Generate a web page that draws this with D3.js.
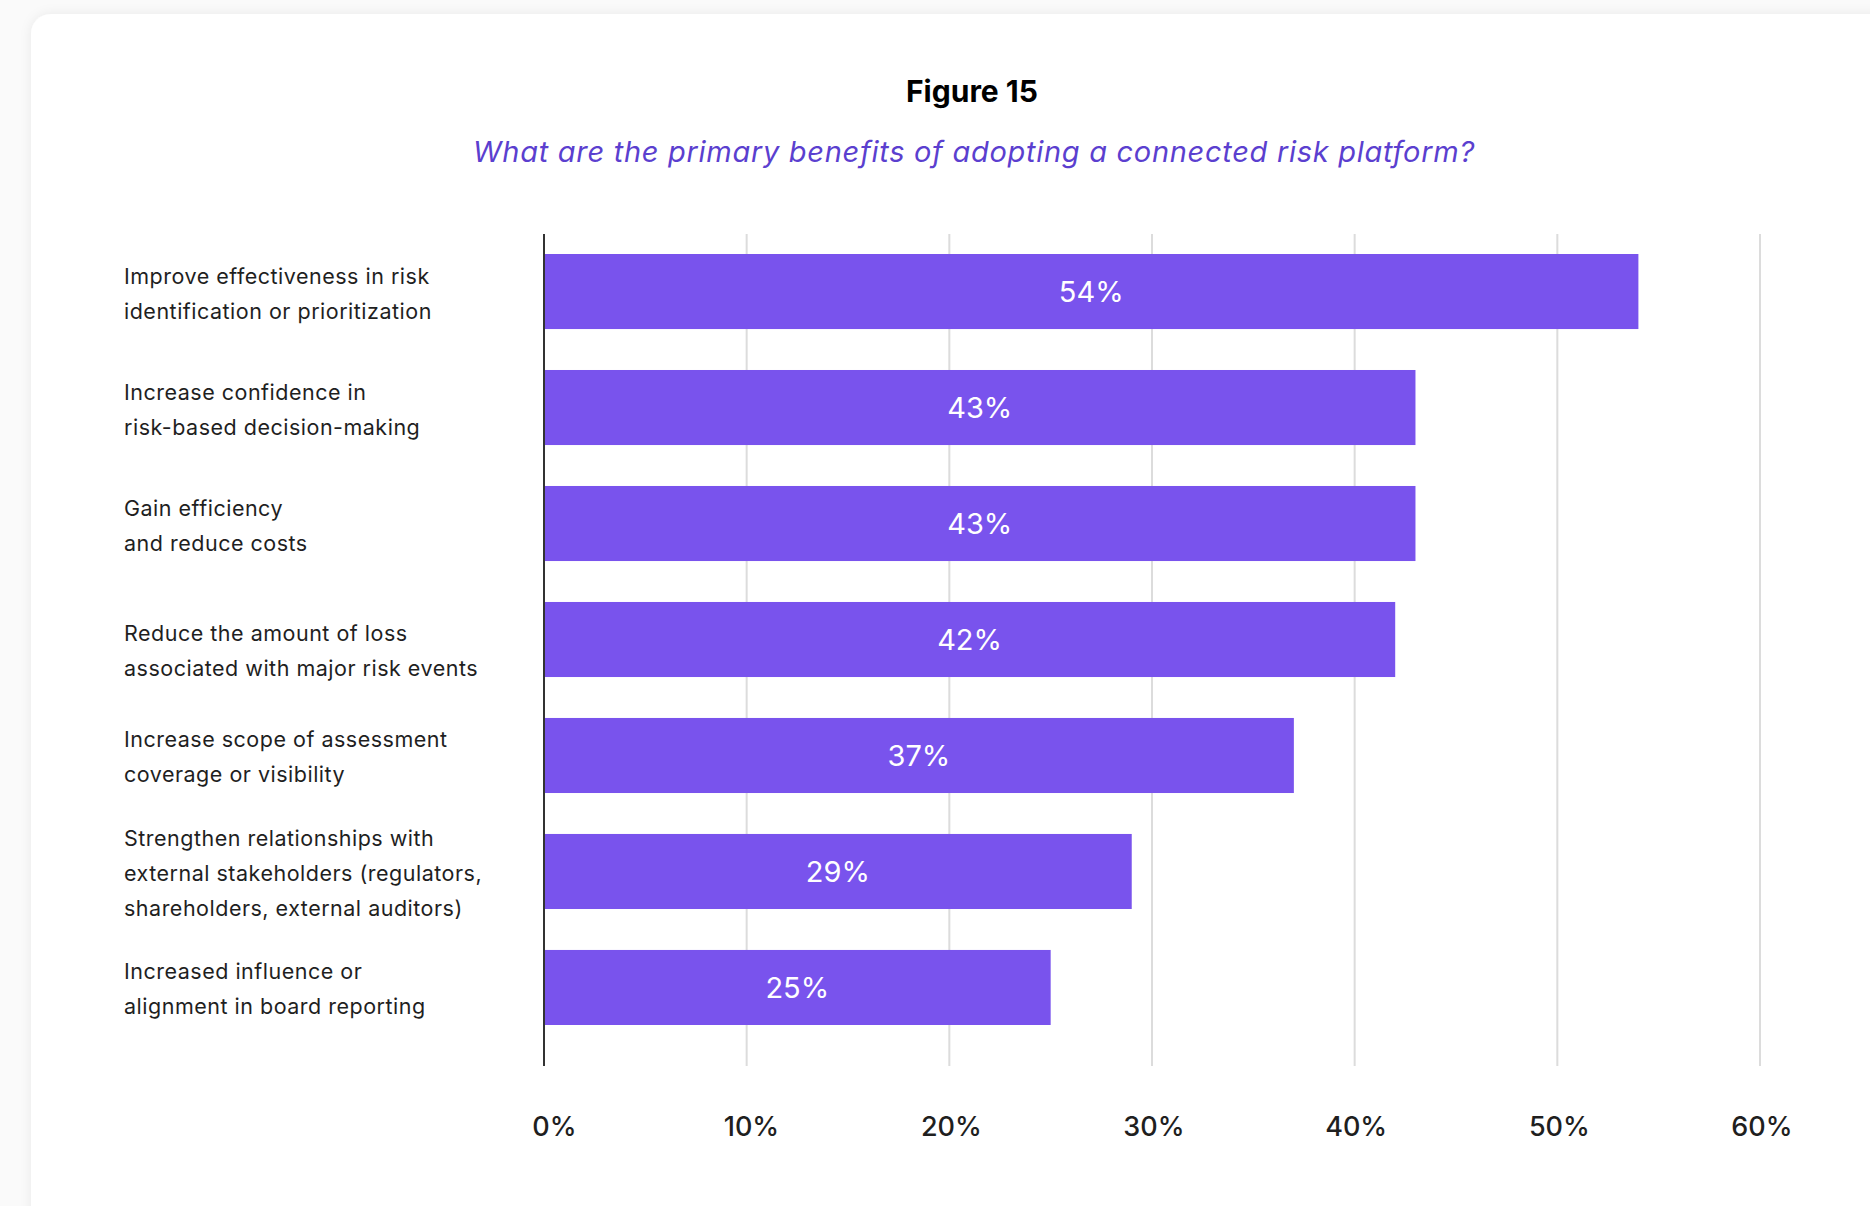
<!DOCTYPE html>
<html>
<head>
<meta charset="utf-8">
<script src="https://cdn.jsdelivr.net/npm/d3@7"></script>
<style>
body { margin: 0; background: #fafafa; }
svg { display: block; }
.catLabel { font-family: Inter, "Noto Sans", sans-serif; font-size: 21.5px; letter-spacing: 0.5px; fill: #1f1f1f; }
.valLabel { font-family: Inter, "Noto Sans", sans-serif; font-size: 29px; fill: #ffffff; }
.tickLabel { font-family: Inter, "Noto Sans", sans-serif; font-size: 27px; font-weight: 500; fill: #1f1f1f; }
.title { font-family: Inter, "Noto Sans", sans-serif; font-size: 30px; font-weight: 700; fill: #000; }
.subtitle { font-family: Inter, "Noto Sans", sans-serif; font-size: 29px; letter-spacing: 0.7px; font-style: italic; fill: #5b3fcf; }
</style>
</head>
<body>
<script>
(function(){

//chart data
var categories = [
    ["Improve effectiveness in risk", "identification or prioritization"],
    ["Increase confidence in", "risk-based decision-making"],
    ["Gain efficiency", "and reduce costs"],
    ["Reduce the amount of loss", "associated with major risk events"],
    ["Increase scope of assessment", "coverage or visibility"],
    ["Strengthen relationships with", "external stakeholders (regulators,", "shareholders, external auditors)"],
    ["Increased influence or", "alignment in board reporting"]
];
var values = [54, 43, 43, 42, 37, 29, 25];
var tickValues = [0, 10, 20, 30, 40, 50, 60];

var titleText = "Figure 15";
var subtitleText = "What are the primary benefits of adopting a connected risk platform?";

window.onload = drawChart();

function drawChart(){
    //page frame
    var width = 1870,
        height = 1206;

    var svg = d3.select("body")
        .append("svg")
        .attr("width", width)
        .attr("height", height);

    //soft shadow for the card
    var defs = svg.append("defs");
    var filter = defs.append("filter")
        .attr("id", "shadow")
        .attr("x", "-5%").attr("y", "-5%")
        .attr("width", "110%").attr("height", "110%");
    filter.append("feDropShadow")
        .attr("dx", 0).attr("dy", 0)
        .attr("stdDeviation", 6)
        .attr("flood-color", "#000")
        .attr("flood-opacity", 0.07);

    //white card
    svg.append("rect")
        .attr("x", 31)
        .attr("y", 14)
        .attr("width", 1900)
        .attr("height", 1250)
        .attr("rx", 20)
        .attr("fill", "#fff")
        .attr("filter", "url(#shadow)");

    //titles
    svg.append("text")
        .attr("class", "title")
        .attr("x", 972)
        .attr("y", 102)
        .attr("text-anchor", "middle")
        .text(titleText);

    svg.append("text")
        .attr("class", "subtitle")
        .attr("x", 974)
        .attr("y", 161.5)
        .attr("text-anchor", "middle")
        .text(subtitleText);

    //scales
    var xScale = d3.scaleLinear()
        .domain([0, 60])
        .range([544, 1760]);

    var yScale = d3.scaleBand()
        .domain(d3.range(values.length))
        .range([254, 1025])
        .paddingInner(0.353)
        .paddingOuter(0);

    var gridTop = 234,
        gridBottom = 1066;

    //vertical gridlines
    svg.selectAll(".grid")
        .data(tickValues.slice(1))
        .enter()
        .append("line")
        .attr("class", "grid")
        .attr("x1", function(d){ return xScale(d); })
        .attr("x2", function(d){ return xScale(d); })
        .attr("y1", gridTop)
        .attr("y2", gridBottom)
        .attr("stroke", "#dcdcdc")
        .attr("stroke-width", 2);

    //bars
    svg.selectAll(".bar")
        .data(values)
        .enter()
        .append("rect")
        .attr("class", "bar")
        .attr("x", xScale(0))
        .attr("y", function(d, i){ return yScale(i); })
        .attr("width", function(d){ return xScale(d) - xScale(0); })
        .attr("height", yScale.bandwidth())
        .attr("fill", "#7953ed");

    //value labels in the bars
    svg.selectAll(".valLabel")
        .data(values)
        .enter()
        .append("text")
        .attr("class", "valLabel")
        .attr("x", function(d){ return (xScale(0) + xScale(d)) / 2; })
        .attr("y", function(d, i){ return yScale(i) + yScale.bandwidth() / 2 + 10.5; })
        .attr("text-anchor", "middle")
        .text(function(d){ return d + "%"; });

    //zero axis line
    svg.append("line")
        .attr("x1", xScale(0))
        .attr("x2", xScale(0))
        .attr("y1", gridTop)
        .attr("y2", gridBottom)
        .attr("stroke", "#333")
        .attr("stroke-width", 2);

    //category labels, centred on each bar (4th one sits a bit lower in the original)
    var lineHeight = 35;
    var labelNudge = function(i){ return i == 3 ? 9 : 0; };

    var labels = svg.selectAll(".catLabel")
        .data(categories)
        .enter()
        .append("text")
        .attr("class", "catLabel");

    labels.each(function(lines, i){
        var mid = yScale(i) + yScale.bandwidth() / 2 + labelNudge(i);
        d3.select(this).selectAll("tspan")
            .data(lines)
            .enter()
            .append("tspan")
            .attr("x", 124)
            .attr("y", function(d, j){
                return mid + (j - (lines.length - 1) / 2) * lineHeight + 9.5;
            })
            .text(function(d){ return d; });
    });

    //x axis tick labels, right-aligned just past each gridline
    var xAxis = d3.axisBottom(xScale)
        .tickValues(tickValues)
        .tickSize(0)
        .tickPadding(0)
        .tickFormat(function(d){ return d + "%"; });

    var axis = svg.append("g")
        .attr("transform", "translate(0,1136)")
        .call(xAxis);

    axis.select(".domain").remove();
    axis.selectAll("text")
        .attr("class", "tickLabel")
        .attr("text-anchor", "end")
        .attr("x", 32)
        .attr("dy", 0)
        .attr("y", 0)
        .attr("font-family", null)
        .attr("font-size", null)
        .attr("fill", null);
};

})();
</script>
</body>
</html>
